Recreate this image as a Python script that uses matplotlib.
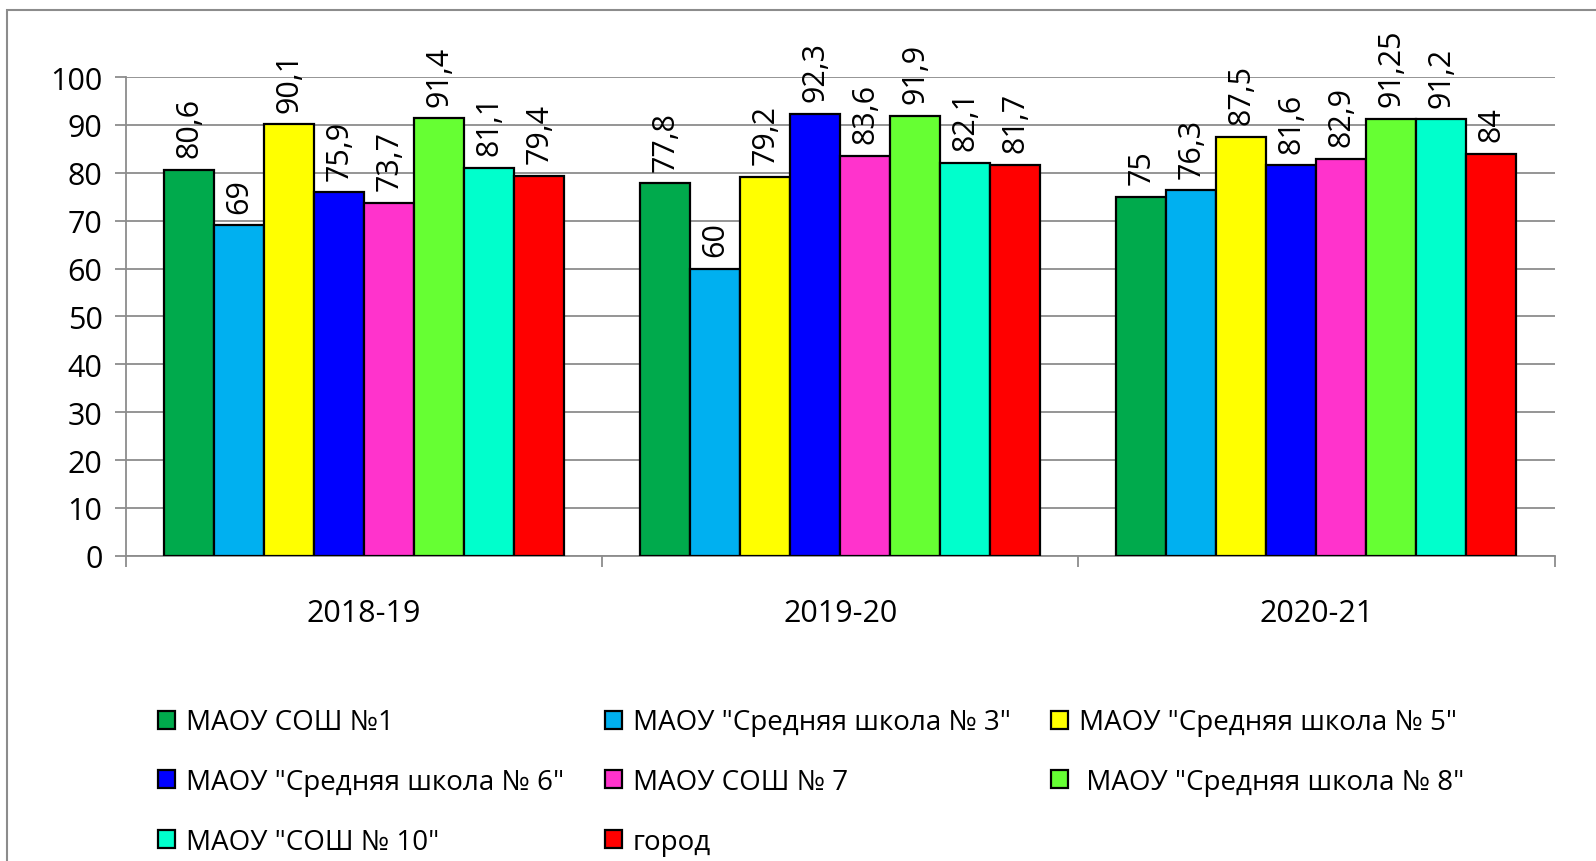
import matplotlib
matplotlib.use("Agg")
import matplotlib.pyplot as plt
from matplotlib.patches import Rectangle
import numpy as np

plt.rcParams['font.family'] = ['Open Sans', 'DejaVu Sans']

years = ["2018-19", "2019-20", "2020-21"]
schools = [
    'МАОУ СОШ №1',
    'МАОУ "Средняя школа № 3"',
    'МАОУ "Средняя школа № 5"',
    'МАОУ "Средняя школа № 6"',
    'МАОУ СОШ № 7',
    ' МАОУ "Средняя школа № 8"',
    'МАОУ "СОШ № 10"',
    'город',
]
values = [
    [80.6, 77.8, 75],
    [69, 60, 76.3],
    [90.1, 79.2, 87.5],
    [75.9, 92.3, 81.6],
    [73.7, 83.6, 82.9],
    [91.4, 91.9, 91.25],
    [81.1, 82.1, 91.2],
    [79.4, 81.7, 84],
]
colors = ["#00AA4C", "#00B0F0", "#FFFF00", "#0000FF",
          "#FF33CC", "#66FF33", "#00FFCC", "#FF0000"]

fig = plt.figure(figsize=(15.96, 8.62), dpi=100)
ax = fig.add_axes([0.079, 0.354, 0.895, 0.5555])

grid_c = "#8c8c8c"
width = 0.105
centers = np.arange(len(years)) + 0.5
handles = []
for i, (name, vals) in enumerate(zip(schools, values)):
    xs = centers + (i - 3.5) * width
    b = ax.bar(xs, vals, width, color=colors[i], edgecolor="black",
               linewidth=1.6, label=name, zorder=3)
    handles.append(b)
    for x, v in zip(xs, vals):
        txt = str(v).replace(".", ",")
        ax.annotate(txt, (x, v), xytext=(0, 9), textcoords="offset points",
                    rotation=90, ha="center", va="bottom", fontsize=22)

ax.set_xlim(0, 3)
ax.set_ylim(0, 100)
ax.set_yticks(np.arange(0, 101, 10))
ax.yaxis.grid(True, color=grid_c, linewidth=1.3, zorder=0)
ax.set_axisbelow(True)
ax.tick_params(axis="y", length=8, color=grid_c, width=1.3, labelsize=22, pad=9)

ax.set_xticks(centers)
ax.set_xticklabels(years)
ax.set_xticks([0, 1, 2, 3], minor=True)
ax.tick_params(axis="x", which="major", length=0, labelsize=22, pad=30)
ax.tick_params(axis="x", which="minor", length=8, color=grid_c, width=1.3)

for s in ["top", "right"]:
    ax.spines[s].set_visible(False)
for s in ["left", "bottom"]:
    ax.spines[s].set_color(grid_c)
    ax.spines[s].set_linewidth(1.3)

order = [0, 3, 6, 1, 4, 7, 2, 5]
leg = fig.legend([handles[k] for k in order], [schools[k] for k in order],
                 ncol=3, loc="upper left", bbox_to_anchor=(0.092, 0.19),
                 frameon=False, fontsize=20, handlelength=0.62, handleheight=0.62,
                 handletextpad=0.4, columnspacing=1.45, labelspacing=1.15,
                 borderaxespad=0)

fig.patches.append(Rectangle((7 / 1596, -0.1), 1.2, 1 - 11 / 862 + 0.1,
                             transform=fig.transFigure, fill=False,
                             edgecolor=grid_c, linewidth=1.5))

fig.savefig("out.png", dpi=100)
